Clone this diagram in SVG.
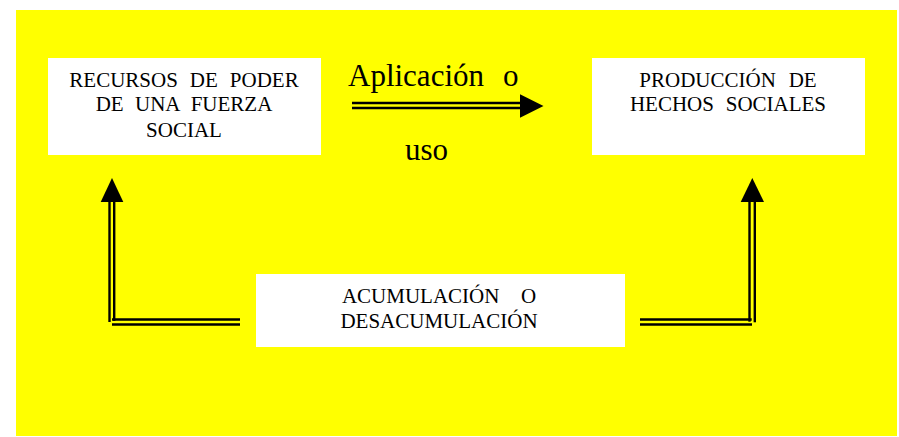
<svg xmlns="http://www.w3.org/2000/svg" width="899" height="437" viewBox="0 0 899 437">
<style>
.box{fill:#fff}
.t{font-family:"Liberation Serif","Times New Roman",serif;font-size:21px;fill:#000;text-anchor:middle}
.big{font-family:"Liberation Serif","Times New Roman",serif;font-size:31px;fill:#000}
.ln{stroke:#000;stroke-width:2.4;fill:none}
.hd{fill:#000}
</style>
<rect x="0" y="0" width="899" height="437" fill="#fff"/>
<rect x="16" y="10" width="881" height="426" fill="#ffff00"/>
<g id="recursos">
<rect class="box" x="48" y="58" width="273" height="97"/>
<text class="t" x="184" y="87.3" word-spacing="6.7">RECURSOS DE PODER</text>
<text class="t" x="184" y="111" word-spacing="6.1">DE UNA FUERZA</text>
<text class="t" x="184" y="136.5">SOCIAL</text>
</g>
<g id="produccion">
<rect class="box" x="592" y="58" width="273" height="97"/>
<text class="t" x="728" y="87.3" word-spacing="7.6">PRODUCCIÓN DE</text>
<text class="t" x="728" y="111" word-spacing="6.5">HECHOS SOCIALES</text>
</g>
<g id="acumulacion">
<rect class="box" x="256" y="274" width="369" height="73"/>
<text class="t" x="439" y="302.7" word-spacing="16.3">ACUMULACIÓN O</text>
<text class="t" x="439" y="327.7">DESACUMULACIÓN</text>
</g>
<g id="label">
<text class="big" x="348" y="85.7">Aplicación</text>
<text class="big" x="503" y="85.7">o</text>
<text class="big" x="405" y="160">uso</text>
</g>
<g id="connectors">
<line class="ln" x1="352" y1="103" x2="522" y2="103"/>
<line class="ln" x1="352" y1="108" x2="522" y2="108"/>
<polygon class="hd" points="520,94.3 543.5,106 520,117.7"/>
<line class="ln" x1="109.5" y1="200" x2="109.5" y2="322"/>
<line class="ln" x1="114.2" y1="200" x2="114.2" y2="321"/>
<line class="ln" x1="112" y1="319.5" x2="240" y2="319.5"/>
<line class="ln" x1="112" y1="324.5" x2="240" y2="324.5"/>
<polygon class="hd" points="112,178 123.3,202 100.7,202"/>
<line class="ln" x1="749.5" y1="200" x2="749.5" y2="321.7"/>
<line class="ln" x1="754.8" y1="200" x2="754.8" y2="322.3"/>
<line class="ln" x1="640" y1="319.5" x2="751.7" y2="319.5"/>
<line class="ln" x1="640" y1="324.5" x2="752" y2="324.5"/>
<polygon class="hd" points="752.3,178 764,202 740.7,202"/>
</g>
</svg>
